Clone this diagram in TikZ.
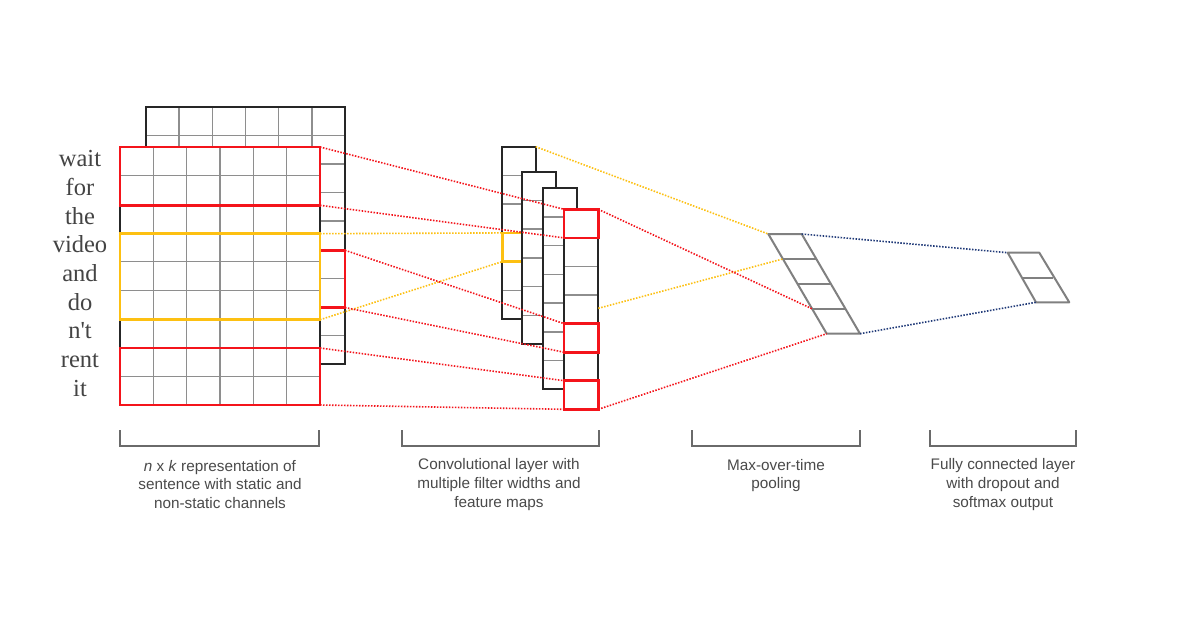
\documentclass[tikz,border=0pt]{standalone}
\usepackage{fontspec}
\setmainfont{Liberation Serif}
\setsansfont{Liberation Sans}
\usetikzlibrary{calc}
\definecolor{gridgray}{HTML}{8E8E8E}
\definecolor{hred}{HTML}{F4141B}
\definecolor{hyel}{HTML}{FDC012}
\definecolor{hblue}{HTML}{203A78}
\definecolor{wordgray}{HTML}{444444}
\definecolor{labgray}{HTML}{4A4A4A}
\definecolor{brgray}{HTML}{6A6A6A}
\begin{document}
\begin{tikzpicture}[x=1pt,y=-1pt,
  gridline/.style={draw=gridgray,line width=1.5pt},
  outline/.style={draw=black!85,line width=2pt},
  redbox/.style={draw=hred,line width=2.6pt},
  yelbox/.style={draw=hyel,line width=2.6pt},
  poolline/.style={draw=gridgray!90!black,line width=2pt,line join=round},
  reddot/.style={draw=hred,line width=1.6pt,dash pattern=on 1.5pt off 1.5pt},
  yeldot/.style={draw=hyel,line width=1.6pt,dash pattern=on 1.5pt off 1.5pt},
  bluedot/.style={draw=hblue,line width=1.6pt,dash pattern=on 1.5pt off 1.5pt},
  word/.style={anchor=base,text=wordgray,font=\fontsize{24.5}{24.5}\selectfont,inner sep=0pt},
  bracket/.style={draw=brgray,line width=1.5pt},
  caption/.style={text=labgray,font=\sffamily\fontsize{15.3}{18.6}\selectfont,align=center,anchor=center,inner sep=0pt}
]
\useasboundingbox (0,0) rectangle (1200,630);
\fill[white] (0,0) rectangle (1200,630);

% ---------- back channel ----------
\fill[white] (146,107) rectangle (345,364);
\foreach \i in {1,...,8} \draw[gridline] (146,107+\i*28.56) -- (345,107+\i*28.56);
\foreach \j in {1,...,5} \draw[gridline] (146+\j*33.17,107) -- (146+\j*33.17,364);
\draw[outline] (146,107) rectangle (345,364);
% red highlight on back channel
\draw[redbox] (320,250.3) -- (345,250.3) -- (345,307.5) -- (320,307.5);

% ---------- front channel ----------
\fill[white] (120,147) rectangle (320,405);
\foreach \i in {1,...,8} \draw[gridline] (120,147+\i*28.667) -- (320,147+\i*28.667);
\foreach \j in {1,...,5} \draw[gridline] (120+\j*33.33,147) -- (120+\j*33.33,405);
\draw[outline] (120,147) rectangle (320,405);
\draw[redbox] (120,147) rectangle (320,205.3);
\draw[yelbox] (120,233.7) rectangle (320,319.7);
\draw[redbox] (120,348) rectangle (320,405);

% words
\node[word] (w1) at (80,166.7) {wait};
\node[word] (w2) at (80,195.4) {for};
\node[word] (w3) at (80,224.0) {the};
\node[word] (w4) at (80,252.7) {video};
\node[word] (w5) at (80,281.4) {and};
\node[word] (w6) at (80,310.0) {do};
\node[word] (w7) at (80,338.7) {n\textquotesingle t};
\node[word] (w8) at (80,367.4) {rent};
\node[word] (w9) at (80,396.0) {it};

% ---------- convolutional feature maps ----------
% map 1
\fill[white] (502.3,146.7) rectangle (535.7,319);
\foreach \i in {1,...,5} \draw[gridline] (502.3,146.7+\i*28.72) -- (535.7,146.7+\i*28.72);
\draw[outline] (502.3,146.7) rectangle (535.7,319);
\draw[yelbox] (502.3,232.9) rectangle (535.7,261.6);
% map 2
\fill[white] (522.3,171.7) rectangle (556,344);
\foreach \i in {1,...,5} \draw[gridline] (522.3,171.7+\i*28.72) -- (556,171.7+\i*28.72);
\draw[outline] (522.3,171.7) rectangle (556,344);
% map 3
\fill[white] (543.3,188.3) rectangle (577.3,389.3);
\foreach \i in {1,...,6} \draw[gridline] (543.3,188.3+\i*28.71) -- (577.3,188.3+\i*28.71);
\draw[outline] (543.3,188.3) rectangle (577.3,389.3);
% map 4
\fill[white] (564,209.3) rectangle (598.3,409.3);
\foreach \i in {1,...,6} \draw[gridline] (564,209.3+\i*28.57) -- (598.3,209.3+\i*28.57);
\draw[outline] (564,209.3) rectangle (598.3,409.3);
\draw[redbox] (564,209.3) rectangle (598.3,237.9);
\draw[redbox] (564,323.6) rectangle (598.3,352.2);
\draw[redbox] (564,380.7) rectangle (598.3,409.3);

% ---------- max-over-time pooling ----------
\foreach \i in {1,2,3}
  \draw[poolline] (768.3+\i*14.6,234+\i*24.93) -- (801.7+\i*14.6,234+\i*24.93);
\draw[poolline] (768.3,234) -- (801.7,234) -- (860,333.7) -- (826.7,333.7) -- cycle;

% ---------- fully connected output ----------
\draw[poolline] (1007.7+14.15,277.5) -- (1039.3+14.15,277.5);
\draw[poolline] (1007.7,252.7) -- (1039.3,252.7) -- (1069.3,302.3) -- (1036,302.3) -- cycle;

% ---------- named connector end points ----------
\coordinate (fA) at (320,147);
\coordinate (fB) at (320,205.3);
\coordinate (fY1) at (320,233.7);
\coordinate (fY2) at (320,319.7);
\coordinate (bR1) at (345,250.3);
\coordinate (bR2) at (345,307.5);
\coordinate (fC) at (320,348);
\coordinate (fD) at (320,405);
\coordinate (m1Y1) at (502.3,232.9);
\coordinate (m1Y2) at (502.3,261.6);
\coordinate (m1TR) at (535.7,146.7);
\coordinate (m4a) at (564,209.3);
\coordinate (m4b) at (564,237.9);
\coordinate (m4c) at (564,323.6);
\coordinate (m4d) at (564,352.2);
\coordinate (m4e) at (564,380.7);
\coordinate (m4f) at (564,409.3);
\coordinate (m4TR) at (598.3,209.3);
\coordinate (m4BR) at (598.3,409.3);
\coordinate (m4Y) at (598.3,308.3);
\coordinate (pTL) at (768.3,234);
\coordinate (pTR) at (801.7,234);
\coordinate (pD1) at (782.9,258.9);
\coordinate (pD3) at (812.1,308.8);
\coordinate (pBL) at (826.7,333.7);
\coordinate (pBR) at (860,333.7);
\coordinate (oTL) at (1007.7,252.7);
\coordinate (oBL) at (1036,302.3);

% ---------- dotted connectors ----------
\draw[reddot] (fA) -- (m4a);
\draw[reddot] (fB) -- (m4b);
\draw[yeldot] (fY1) -- (m1Y1);
\draw[yeldot] (fY2) -- (m1Y2);
\draw[reddot] (bR1) -- (m4c);
\draw[reddot] (bR2) -- (m4d);
\draw[reddot] (fC) -- (m4e);
\draw[reddot] (fD) -- (m4f);
\draw[yeldot] (m1TR) -- (pTL);
\draw[yeldot] (m4Y) -- (pD1);
\draw[reddot] (m4TR) -- (pD3);
\draw[reddot] (m4BR) -- (pBL);
\draw[bluedot] (pTR) -- (oTL);
\draw[bluedot] (pBR) -- (oBL);

% ---------- brackets ----------
\draw[bracket] (120,430) -- (120,446) -- (319,446) -- (319,430);
\draw[bracket] (402,430) -- (402,446) -- (599,446) -- (599,430);
\draw[bracket] (692,430) -- (692,446) -- (860,446) -- (860,430);
\draw[bracket] (930,430) -- (930,446) -- (1076,446) -- (1076,430);

% ---------- captions ----------
\node[caption] (c1) at (220,484.5) {\textit{n} x \textit{k} representation of\\sentence with static and\\non-static channels};
\node[caption] (c2) at (499,484.5) {Convolutional layer with\\multiple filter widths and\\feature maps};
\node[caption] (c3) at (776,475.5) {Max-over-time\\pooling};
\node[caption] (c4) at (1003,484.5) {Fully connected layer\\with dropout and\\softmax output};
\end{tikzpicture}
\end{document}
